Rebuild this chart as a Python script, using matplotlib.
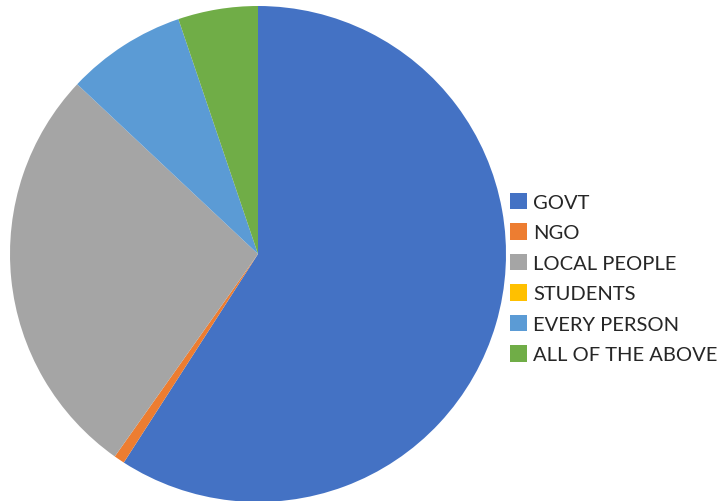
import matplotlib.pyplot as plt
from matplotlib.patches import Patch

labels = ['GOVT', 'NGO', 'LOCAL PEOPLE', 'STUDENTS', 'EVERY PERSON', 'ALL OF THE ABOVE']
shares = [59.1, 0.7, 27.2, 0.0, 7.8, 5.2]
colors = ['#4472C4', '#ED7D31', '#A5A5A5', '#FFC000', '#5B9BD5', '#70AD47']

W, H = 722, 502
fig = plt.figure(figsize=(W / 100, H / 100), dpi=100)

# pie centred at (258, 255) px, radius 248 px
cx, cy, r = 258, 255, 248
ax = fig.add_axes([(cx - r) / W, (H - cy - r) / H, 2 * r / W, 2 * r / H])
ax.pie(shares, colors=colors, startangle=90, counterclock=False,
       radius=1, wedgeprops=dict(linewidth=0))
ax.set_xlim(-1, 1)
ax.set_ylim(-1, 1)
ax.set_aspect('equal')
ax.axis('off')

handles = [Patch(facecolor=c, edgecolor='none') for c in colors]
fig.legend(handles, labels, loc='upper left',
           bbox_to_anchor=(510 / W, 1 - 194 / H),
           frameon=False, borderpad=0, borderaxespad=0,
           prop=dict(family='Lato', size=14.5),
           labelcolor='#262626',
           handlelength=0.85, handleheight=0.85, handletextpad=0.3,
           labelspacing=0.62)

fig.savefig('out.png', dpi=100)
